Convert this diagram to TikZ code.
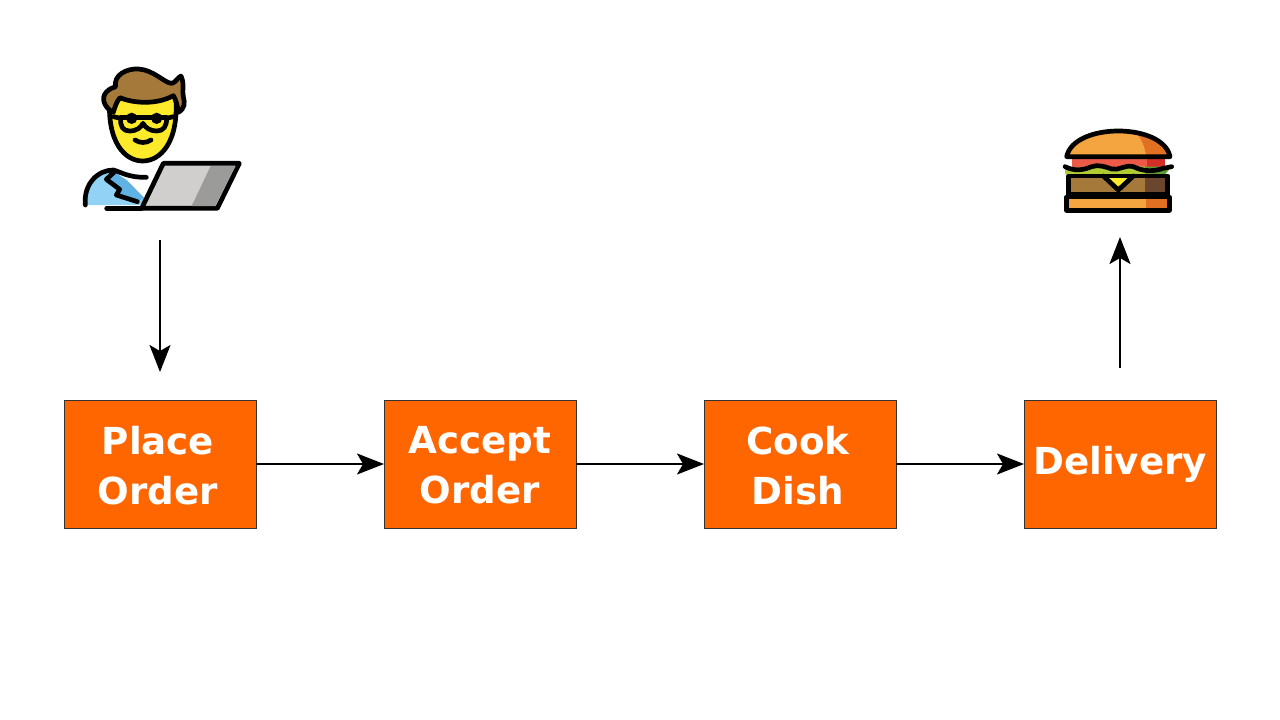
\documentclass[tikz,border=0pt]{standalone}
\usepackage{fontspec}
\setmainfont{DejaVu Sans}
\usetikzlibrary{positioning,arrows.meta}

\definecolor{boxorange}{HTML}{FF6600}
\definecolor{skinyellow}{HTML}{FCEA2B}
\definecolor{hairbrown}{HTML}{A57939}
\definecolor{patchdark}{HTML}{6A462F}
\definecolor{sleevelight}{HTML}{92D3F5}
\definecolor{sleevedark}{HTML}{61B2E4}
\definecolor{lidlight}{HTML}{D0CFCE}
\definecolor{liddark}{HTML}{9B9B9A}
\definecolor{bunlight}{HTML}{F4A53F}
\definecolor{bundark}{HTML}{E27022}
\definecolor{tomatolight}{HTML}{EA5A47}
\definecolor{tomatodark}{HTML}{D22F27}
\definecolor{lettucelight}{HTML}{B1CC33}
\definecolor{lettucedark}{HTML}{5C9E31}

\newcommand{\boxline}[1]{\raisebox{-1.2pt}[\height][\depth]{#1}}

\begin{document}
\begin{tikzpicture}[x=1pt,y=-1pt,
    stepbox/.style = {shape=rectangle, draw=black!80, line width=0.7pt,
      fill=boxorange, minimum width=192pt, minimum height=128pt,
      inner sep=0pt, outer sep=0pt, align=center, text=white,
      font=\fontsize{37.2}{50}\selectfont\bfseries},
    flow/.style = {draw=black, line width=2pt,
      -{Stealth[length=27pt,width=21pt,inset=6pt]}},
    outline/.style = {draw=black, line width=4.7pt, line cap=round, line join=round},
    icon/.style = {x=1/3*1pt, y=-1/3*1pt}]
    \useasboundingbox (0,0) rectangle (1280,720);

    \node[stepbox] (placeorder) at (160,464) {\boxline{Place}\hspace*{4pt}\\\boxline{Order}\hspace*{4pt}};
    \node[stepbox, right=128pt of placeorder] (acceptorder) {\boxline{Accept}\\\boxline{Order}};
    \node[stepbox, right=128pt of acceptorder] (cookdish) {\boxline{Cook}\hspace*{4pt}\\\boxline{Dish}\hspace*{4pt}};
    \node[stepbox, right=128pt of cookdish] (delivery) {\raisebox{3pt}{Delivery}};

    \coordinate (userfoot) at (160,240);
    \coordinate (placetop) at (160,372);
    \coordinate (deliverytop) at (1120,368);
    \coordinate (burgerfoot) at (1120,237);

    \draw[flow] (userfoot) -- (placetop);
    \draw[flow] (placeorder) -- (acceptorder);
    \draw[flow] (acceptorder) -- (cookdish);
    \draw[flow] (cookdish) -- (delivery);
    \draw[flow] (deliverytop) -- (burgerfoot);

    % user with laptop
    \begin{scope}[shift={(70,55)}, icon]
      \filldraw[outline, fill=skinyellow] (120,120) .. controls (108,262) and (165,318) .. (218,318)
        .. controls (271,318) and (329,262) .. (317,120) -- cycle;
      \filldraw[outline, fill=hairbrown] (130,172) .. controls (105,160) and (90,130) .. (110,110)
        .. controls (120,100) and (130,98) .. (137,95)
        .. controls (130,60) and (170,40) .. (205,42)
        .. controls (250,44) and (285,85) .. (305,85)
        .. controls (315,85) and (325,65) .. (333,63)
        .. controls (345,90) and (335,105) .. (340,125)
        .. controls (345,145) and (345,160) .. (325,172)
        .. controls (322,150) and (318,135) .. (310,122)
        .. controls (260,150) and (190,145) .. (150,128)
        .. controls (140,140) and (135,155) .. (130,172) -- cycle;
      % glasses
      \draw[outline] (130,185) -- (152,190) .. controls (150,215) and (160,228) .. (178,228)
        .. controls (200,228) and (212,218) .. (219,205)
        .. controls (226,218) and (240,228) .. (260,228)
        .. controls (280,228) and (290,215) .. (290,190) -- (310,185);
      \draw[outline] (152,188) -- (290,188);
      \fill (185,190) circle (17);
      \fill (260,190) circle (17);
      \draw[outline] (195,255) .. controls (210,265) and (228,265) .. (243,255);
      % arm
      \fill[sleevelight] (46,450) .. controls (40,385) and (85,345) .. (130,345)
        -- (225,430) -- (212,450) -- cycle;
      \fill[sleevedark] (130,350) -- (112,378) -- (150,403) -- (142,420) -- (205,440)
        -- (222,428) -- (170,375) -- cycle;
      \draw[outline] (46,450) .. controls (40,385) and (85,345) .. (130,345)
        .. controls (150,350) and (175,368) .. (229,367);
      \draw[outline] (134,350) -- (109,373) -- (149,403) -- (139,420) -- (202,440);
      % laptop
      \filldraw[outline, fill=lidlight] (280,325) -- (508,325) -- (442,460) -- (215,460) -- cycle;
      \fill[liddark] (422,333) -- (497,333) -- (436,453) -- (365,453) -- cycle;
      \draw[outline] (110,460) -- (215,460);
    \end{scope}

    % burger
    \begin{scope}[shift={(1050,115)}, icon]
      \fill[tomatolight] (65,130) -- (290,130) -- (290,165) -- (65,165) -- cycle;
      \fill[tomatodark] (290,130) -- (345,130) -- (345,165) -- (290,165) -- cycle;
      \fill[lettucelight] (45,155) .. controls (90,165) and (120,145) .. (150,155)
        .. controls (200,170) and (240,150) .. (285,155) -- (285,178) -- (45,178) -- cycle;
      \fill[lettucedark] (285,155) -- (365,155) -- (345,178) -- (285,178) -- cycle;
      \fill[hairbrown] (55,183) -- (285,183) -- (285,239) -- (55,239) -- cycle;
      \fill[patchdark] (285,183) -- (353,183) -- (353,239) -- (285,239) -- cycle;
      \fill[skinyellow] (170,185) -- (240,185) -- (205,222) -- cycle;
      \draw[outline, line join=miter] (160,183) -- (205,225) -- (250,183);
      \draw[outline] (56,183) -- (353,183) -- (353,239) -- (56,239) -- cycle;
      \fill[bunlight] (50,125) .. controls (60,75) and (130,48) .. (205,48)
        .. controls (230,48) and (250,47) .. (255,50) .. controls (275,70) and (285,100) .. (288,125) -- cycle;
      \fill[bundark] (255,50) .. controls (310,60) and (350,85) .. (360,125) -- (288,125)
        .. controls (285,100) and (275,70) .. (255,50) -- cycle;
      \draw[outline] (50,125) .. controls (60,75) and (130,48) .. (205,48)
        .. controls (280,48) and (350,75) .. (360,125) -- cycle;
      \draw[outline] (45,155) .. controls (75,170) and (100,165) .. (125,155)
        .. controls (145,148) and (165,155) .. (185,162)
        .. controls (205,168) and (225,148) .. (250,155)
        .. controls (280,170) and (310,170) .. (340,160) -- (365,155);
      \filldraw[outline, fill=bunlight] (50,246) -- (358,246) -- (358,286) -- (50,286) -- cycle;
      \fill[bundark] (288,253) -- (352,253) -- (352,279) -- (288,279) -- cycle;
    \end{scope}
  \end{tikzpicture}
\end{document}
